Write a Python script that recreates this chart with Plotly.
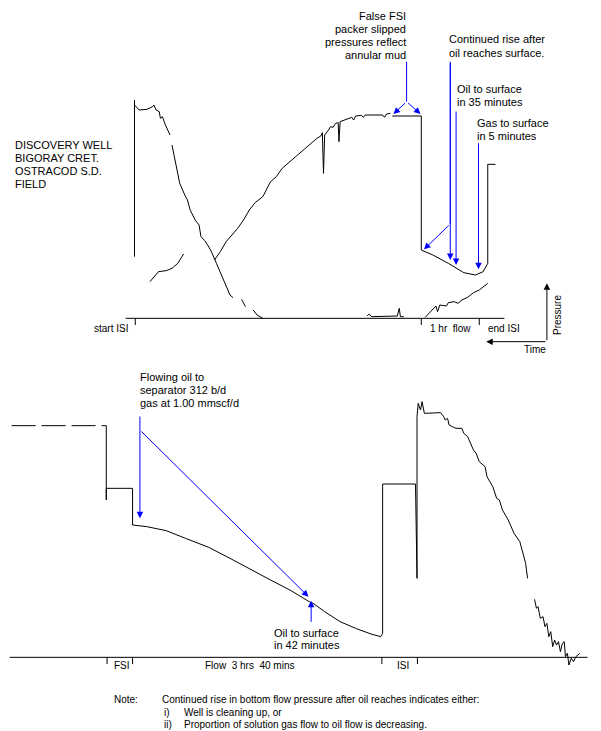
import plotly.graph_objects as go

# reference coordinates (zoom space: x*SX, y/3)
SX = 0.3865
SY = 1 / 3.0
TOP = 0
BOT = 360

# ---- upper panel curves
top_isi_drop = [(348, 300), (348, 770)]
top_buildup1 = [(348, 315), (360, 330), (380, 328), (395, 320), (398, 315), (404, 330),
                (412, 335), (415, 355), (420, 350), (428, 375), (440, 405)]
top_buildup1b = [(445, 435), (452, 475), (458, 510), (465, 550), (478, 585), (485, 600),
                 (492, 630), (505, 660), (515, 675), (520, 710), (530, 722), (545, 750),
                 (560, 790), (575, 830), (588, 865), (595, 885), (603, 893)]
top_buildup1c = [(625, 898), (635, 920)]
top_buildup1d = [(655, 930), (665, 945), (680, 955)]
top_small = [(388, 845), (400, 830), (410, 815), (430, 812), (445, 805), (460, 790), (475, 762)]
top_rise = [(555, 780), (570, 755), (585, 725), (600, 705), (615, 685), (630, 660), (645, 630),
            (660, 608), (680, 590), (700, 545), (715, 530), (730, 505), (745, 490), (760, 475),
            (775, 460), (790, 445), (805, 430), (820, 415), (830, 408), (834, 398), (837, 520),
            (840, 405), (850, 390), (855, 380), (862, 382), (868, 370), (875, 368), (877, 425),
            (880, 365), (890, 360), (900, 355), (910, 352), (915, 360), (920, 348), (935, 346),
            (940, 352), (945, 345), (990, 345), (995, 352), (1000, 342), (1010, 340)]
top_flow = [(1015, 348), (1090, 348), (1090, 750), (1120, 765), (1160, 790), (1200, 818),
            (1230, 825), (1250, 815), (1262, 790), (1262, 493), (1282, 493)]
top_noise1 = [(950, 948), (955, 942), (962, 950), (1028, 948), (1033, 925), (1036, 950), (1045, 950)]
top_noise2 = [(1100, 952), (1110, 940), (1120, 930), (1128, 918), (1132, 935), (1138, 915),
              (1155, 918), (1160, 908), (1175, 905), (1185, 910), (1195, 900), (1210, 892),
              (1225, 878), (1240, 870), (1262, 850)]
top_base = [(325, 955), (1305, 955)]
top_ticks = [350, 1090, 1240]

# ---- lower panel curves
bot_dash = [(30, 197), (275, 197)]
bot_flow = [(275, 197), (275, 420), (275, 385), (343, 385), (343, 495), (380, 500), (430, 512),
            (480, 535), (540, 562), (600, 598), (650, 630), (700, 660), (750, 690), (780, 712),
            (800, 725), (810, 730), (840, 755), (880, 785), (920, 805), (960, 822), (985, 830),
            (990, 820), (990, 372), (1075, 372), (1077, 512), (1077, 420), (1079, 655),
            (1079, 170), (1082, 130), (1088, 150), (1092, 125), (1098, 160), (1140, 158),
            (1148, 170), (1152, 180), (1158, 175), (1162, 195), (1170, 200), (1180, 205),
            (1195, 205), (1200, 220), (1210, 230), (1215, 245), (1225, 270), (1232, 280),
            (1240, 305), (1255, 320), (1260, 350), (1275, 380), (1285, 415), (1292, 420),
            (1300, 450), (1315, 480), (1330, 520), (1345, 545), (1355, 590), (1360, 610),
            (1365, 655)]
bot_tail = [(1383, 718), (1388, 745), (1392, 740), (1398, 775), (1405, 770), (1410, 800),
            (1415, 790), (1420, 830), (1425, 815), (1430, 860), (1435, 840), (1440, 855),
            (1445, 845), (1450, 875), (1455, 850), (1460, 845), (1463, 890), (1468, 880),
            (1472, 915), (1478, 895), (1484, 905), (1490, 890), (1500, 880)]
bot_base = [(25, 892), (1520, 892)]
bot_ticks = [277, 343, 988, 1080]

# blue arrows (tail -> head) and plain blue lines
top_blue_lines = [[(1052, 185), (1052, 305)], [(1165, 185), (1165, 672)]]
top_arrows = [((1052, 305), (1018, 342)), ((1052, 305), (1088, 342)),
              ((1165, 185), (1165, 780)), ((1165, 672), (1097, 748)),
              ((1180, 330), (1180, 795)), ((1238, 425), (1238, 808))]
bot_arrows = [((362, 165), (362, 475)), ((362, 210), (798, 710)), ((805, 790), (805, 722))]
axis_arrows = [((1415, 1025), (1415, 850)), ((1415, 1025), (1258, 1025))]

fig = go.Figure()


def conv(pts, off):
    return [p[0] * SX for p in pts], [p[1] * SY + off for p in pts]


def line(pts, off, color="black", width=1, dash=None):
    x, y = conv(pts, off)
    fig.add_trace(go.Scatter(x=x, y=y, mode="lines", hoverinfo="skip",
                             line=dict(color=color, width=width, dash=dash)))


for seg in [top_isi_drop, top_buildup1, top_buildup1b, top_buildup1c, top_buildup1d,
            top_small, top_rise, top_flow, top_noise1, top_noise2, top_base]:
    line(seg, TOP)
for t in top_ticks:
    line([(t, 955), (t, 975)], TOP)
line(bot_dash, BOT, dash="24px,6px")
line(bot_flow, BOT)
line(bot_tail, BOT)
line(bot_base, BOT)
for t in bot_ticks:
    line([(t, 892), (t, 912)], BOT)
for seg in top_blue_lines:
    line(seg, TOP, color="blue", width=1)


def arrow(tail, head, off, color="blue"):
    fig.add_annotation(x=head[0] * SX, y=head[1] * SY + off, ax=tail[0] * SX,
                       ay=tail[1] * SY + off, axref="x", ayref="y", xref="x", yref="y",
                       text="", showarrow=True, arrowhead=2, arrowsize=1.3,
                       arrowwidth=1, arrowcolor=color)


for a in top_arrows:
    arrow(a[0], a[1], TOP)
for a in bot_arrows:
    arrow(a[0], a[1], BOT)
for a in axis_arrows:
    arrow(a[0], a[1], TOP, color="black")

F = "Liberation Sans, Arial, sans-serif"


def txt(s, x, y, anchor="left", size=11, angle=0):
    fig.add_annotation(x=x, y=y, text=s, showarrow=False, xref="x", yref="y",
                       xanchor=anchor, yanchor="middle", align=anchor, textangle=angle,
                       font=dict(family=F, size=size, color="black"))


for i, s in enumerate(["False FSI", "packer slipped", "pressures reflect", "annular mud"]):
    txt(s, 408, 16 + i * 13, "right")
txt("Continued rise after", 447, 39)
txt("oil reaches surface.", 447, 53)
txt("Oil to surface", 455, 89)
txt("in 35 minutes", 455, 102)
txt("Gas to surface", 475, 123)
txt("in 5 minutes", 475, 136)
for i, s in enumerate(["DISCOVERY WELL", "BIGORAY CRET.", "OSTRACOD S.D.", "FIELD"]):
    txt(s, 13, 145 + i * 13)
txt("start ISI", 92, 328, size=10)
txt("1 hr  flow", 428, 328, size=10)
txt("end ISI", 486, 328, size=10)
txt("Pressure", 557, 315, "center", size=10, angle=-90)
txt("Time", 522, 349, size=10)

for i, s in enumerate(["Flowing oil to", "separator 312 b/d", "gas at 1.00 mmscf/d"]):
    txt(s, 138, 377 + i * 13)
txt("Oil to surface", 272, 633)
txt("in 42 minutes", 272, 645)
txt("FSI", 112, 665, size=10)
txt("Flow  3 hrs  40 mins", 249, 665, "center", size=10)
txt("ISI", 395, 665, size=10)
txt("Note:", 112, 699, size=10)
txt("Continued rise in bottom flow pressure after oil reaches indicates either:", 160, 699, size=10)
txt("i)", 162, 712, size=10)
txt("Well is cleaning up, or", 182, 712, size=10)
txt("ii)", 162, 724, size=10)
txt("Proportion of solution gas flow to oil flow is decreasing.", 182, 724, size=10)

# page body has an 8px margin, so the figure is offset to land 1:1 on the page
fig.update_layout(width=593, height=723, margin=dict(l=0, r=0, t=0, b=0),
                  plot_bgcolor="white", paper_bgcolor="white", showlegend=False,
                  xaxis=dict(range=[8, 601], visible=False, fixedrange=True),
                  yaxis=dict(range=[731, 8], visible=False, fixedrange=True))
fig.write_html("out.html")
